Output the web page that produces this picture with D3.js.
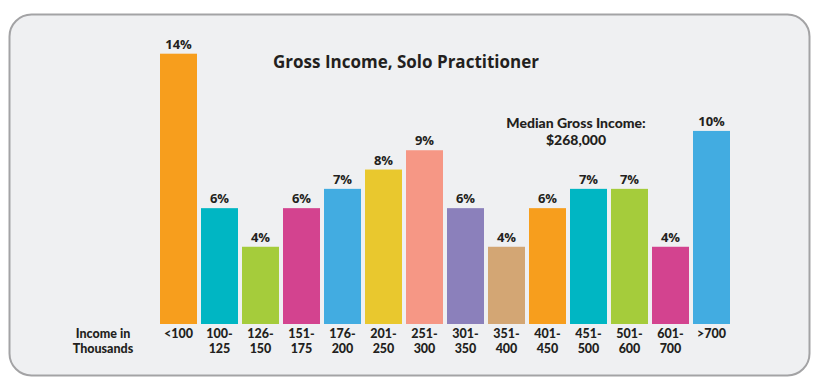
<!DOCTYPE html>
<meta charset="utf-8">
<style>
  body { margin: 0; background: #fff; }
  text { font-family: "Open Sans", sans-serif; font-weight: bold; fill: #231f20; }
  text.lab { font-family: Lato, "Open Sans", sans-serif; font-weight: 900; }
</style>
<body>
<script src="https://d3js.org/d3.v7.min.js"></script>
<script>
// income brackets (two-line tick labels) and share of solo practitioners
var brackets = ["<100", "100-|125", "126-|150", "151-|175", "176-|200", "201-|250", "251-|300",
                "301-|350", "351-|400", "401-|450", "451-|500", "501-|600", "601-|700", ">700"];
var shares = [14, 6, 4, 6, 7, 8, 9, 6, 4, 6, 7, 7, 4, 10];
var colors = ["#f79e1d", "#00b6c3", "#a5cc3b", "#d3438f", "#42ace1", "#e9c82e", "#f69785",
              "#8b80bb", "#d3a674", "#f79e1d", "#00b6c3", "#a5cc3b", "#d3438f", "#42ace1"];

var W = 822, H = 382;
var svg = d3.select("body").append("svg")
    .attr("width", W)
    .attr("height", H);

// panel
svg.append("rect")
    .attr("x", 9.5).attr("y", 14.5)
    .attr("width", 800).attr("height", 361)
    .attr("rx", 22).attr("ry", 22)
    .style("fill", "#eff0f2")
    .style("stroke", "#a3a3a5")
    .style("stroke-width", 2);

// scales
var x = d3.scaleBand()
    .domain(brackets)
    .range([158, 732])
    .paddingInner(4 / 41)
    .paddingOuter(2 / 41);

var y = d3.scaleLinear()
    .domain([0, 14])
    .range([324, 53.7]);

// bars
svg.selectAll(".bar")
    .data(shares)
    .enter().append("rect")
    .attr("class", "bar")
    .attr("x", function(d, i) { return x(brackets[i]); })
    .attr("y", function(d) { return y(d); })
    .attr("width", x.bandwidth())
    .attr("height", function(d) { return y(0) - y(d); })
    .style("fill", function(d, i) { return colors[i]; });

// value labels
svg.selectAll(".val")
    .data(shares)
    .enter().append("text")
    .attr("class", "val")
    .attr("x", function(d, i) { return x(brackets[i]) + x.bandwidth() / 2; })
    .attr("y", function(d) { return y(d) - 5; })
    .attr("text-anchor", "middle")
    .style("font-size", "13px")
    .text(function(d) { return d + "%"; });

// bracket labels
var ticks = svg.selectAll(".tick")
    .data(brackets)
    .enter().append("text")
    .attr("class", "tick lab")
    .attr("text-anchor", "middle")
    .style("font-size", "12.5px");
ticks.selectAll("tspan")
    .data(function(d) { return d.split("|").map(function(s) { return {s: s, b: d}; }); })
    .enter().append("tspan")
    .attr("x", function(d) { return x(d.b) + x.bandwidth() / 2; })
    .attr("y", function(d, i) { return 338 + i * 15; })
    .text(function(d) { return d.s; });

// axis caption
svg.append("text")
    .attr("class", "lab")
    .attr("text-anchor", "middle")
    .style("font-size", "12.5px")
    .selectAll("tspan")
    .data(["Income in", "Thousands"])
    .enter().append("tspan")
    .attr("x", 103)
    .attr("y", function(d, i) { return 338 + i * 15; })
    .text(function(d) { return d; });

// title
svg.append("text")
    .attr("x", 406).attr("y", 68)
    .attr("text-anchor", "middle")
    .style("font-size", "17px")
    .text("Gross Income, Solo Practitioner");

// median note
svg.append("text")
    .attr("class", "lab")
    .attr("text-anchor", "middle")
    .style("font-size", "14px")
    .selectAll("tspan")
    .data(["Median Gross Income:", "$268,000"])
    .enter().append("tspan")
    .attr("x", 576)
    .attr("y", function(d, i) { return 128 + i * 17; })
    .text(function(d) { return d; });
</script>
</body>
